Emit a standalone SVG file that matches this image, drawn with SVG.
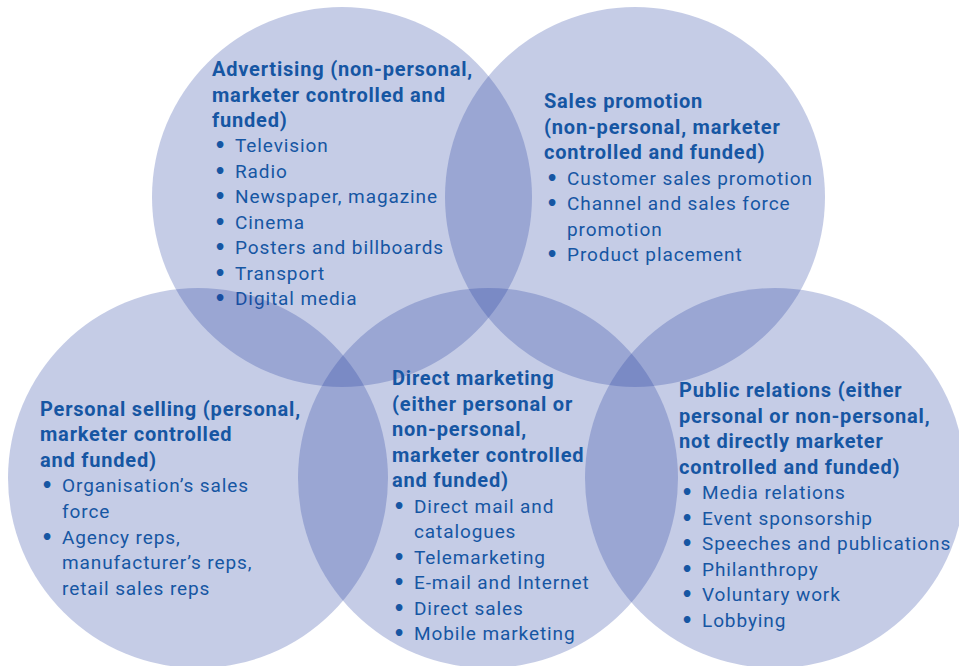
<svg xmlns="http://www.w3.org/2000/svg" width="959" height="666" viewBox="0 0 959 666">
<style>
.c{fill:rgb(31,58,158);fill-opacity:0.26}
text{font-family:Roboto,"Liberation Sans",sans-serif;fill:#1656a3;font-size:19px}
.h{font-weight:bold;font-size:20px;letter-spacing:0.8px}
.i{letter-spacing:0.9px}
.b{font-family:"DejaVu Sans",sans-serif;font-weight:bold;letter-spacing:0}
</style>
<rect width="959" height="666" fill="#fff"/>
<g id="advertising">
<circle class="c" cx="342" cy="197" r="190"/>
<text class="h" x="212" y="76">Advertising (non-personal,</text>
<text class="h" x="212" y="102">marketer controlled and</text>
<text class="h" x="212" y="127">funded)</text>
<text class="i"><tspan class="b" x="214" y="152">•</tspan><tspan x="235" y="152">Television</tspan></text>
<text class="i"><tspan class="b" x="214" y="178">•</tspan><tspan x="235" y="178">Radio</tspan></text>
<text class="i"><tspan class="b" x="214" y="203">•</tspan><tspan x="235" y="203">Newspaper, magazine</tspan></text>
<text class="i"><tspan class="b" x="214" y="229">•</tspan><tspan x="235" y="229">Cinema</tspan></text>
<text class="i"><tspan class="b" x="214" y="254">•</tspan><tspan x="235" y="254">Posters and billboards</tspan></text>
<text class="i"><tspan class="b" x="214" y="280">•</tspan><tspan x="235" y="280">Transport</tspan></text>
<text class="i"><tspan class="b" x="214" y="305">•</tspan><tspan x="235" y="305">Digital media</tspan></text>
</g>
<g id="sales-promotion">
<circle class="c" cx="635" cy="197" r="190"/>
<text class="h" x="544" y="108">Sales promotion</text>
<text class="h" x="544" y="134">(non-personal, marketer</text>
<text class="h" x="544" y="159">controlled and funded)</text>
<text class="i"><tspan class="b" x="546" y="185">•</tspan><tspan x="567" y="185">Customer sales promotion</tspan></text>
<text class="i"><tspan class="b" x="546" y="210">•</tspan><tspan x="567" y="210">Channel and sales force</tspan></text>
<text class="i"><tspan x="567" y="236">promotion</tspan></text>
<text class="i"><tspan class="b" x="546" y="261">•</tspan><tspan x="567" y="261">Product placement</tspan></text>
</g>
<g id="personal-selling">
<circle class="c" cx="198" cy="478" r="190"/>
<text class="h" x="40" y="416">Personal selling (personal,</text>
<text class="h" x="40" y="441">marketer controlled</text>
<text class="h" x="40" y="467">and funded)</text>
<text class="i"><tspan class="b" x="41" y="492">•</tspan><tspan x="62" y="492">Organisation’s sales</tspan></text>
<text class="i"><tspan x="62" y="518">force</tspan></text>
<text class="i"><tspan class="b" x="41" y="544">•</tspan><tspan x="62" y="544">Agency reps,</tspan></text>
<text class="i"><tspan x="62" y="569">manufacturer’s reps,</tspan></text>
<text class="i"><tspan x="62" y="595">retail sales reps</tspan></text>
</g>
<g id="direct-marketing">
<circle class="c" cx="488" cy="478" r="190"/>
<text class="h" x="392" y="385">Direct marketing</text>
<text class="h" x="392" y="411">(either personal or</text>
<text class="h" x="392" y="436">non-personal,</text>
<text class="h" x="392" y="462">marketer controlled</text>
<text class="h" x="392" y="487">and funded)</text>
<text class="i"><tspan class="b" x="393" y="513">•</tspan><tspan x="414" y="513">Direct mail and</tspan></text>
<text class="i"><tspan x="414" y="538">catalogues</tspan></text>
<text class="i"><tspan class="b" x="393" y="564">•</tspan><tspan x="414" y="564">Telemarketing</tspan></text>
<text class="i"><tspan class="b" x="393" y="589">•</tspan><tspan x="414" y="589">E-mail and Internet</tspan></text>
<text class="i"><tspan class="b" x="393" y="615">•</tspan><tspan x="414" y="615">Direct sales</tspan></text>
<text class="i"><tspan class="b" x="393" y="640">•</tspan><tspan x="414" y="640">Mobile marketing</tspan></text>
</g>
<g id="public-relations">
<circle class="c" cx="775" cy="478" r="190"/>
<text class="h" x="679" y="397">Public relations (either</text>
<text class="h" x="679" y="423">personal or non-personal,</text>
<text class="h" x="679" y="448">not directly marketer</text>
<text class="h" x="679" y="474">controlled and funded)</text>
<text class="i"><tspan class="b" x="681" y="499">•</tspan><tspan x="702" y="499">Media relations</tspan></text>
<text class="i"><tspan class="b" x="681" y="525">•</tspan><tspan x="702" y="525">Event sponsorship</tspan></text>
<text class="i"><tspan class="b" x="681" y="550">•</tspan><tspan x="702" y="550">Speeches and publications</tspan></text>
<text class="i"><tspan class="b" x="681" y="576">•</tspan><tspan x="702" y="576">Philanthropy</tspan></text>
<text class="i"><tspan class="b" x="681" y="601">•</tspan><tspan x="702" y="601">Voluntary work</tspan></text>
<text class="i"><tspan class="b" x="681" y="627">•</tspan><tspan x="702" y="627">Lobbying</tspan></text>
</g>
</svg>
